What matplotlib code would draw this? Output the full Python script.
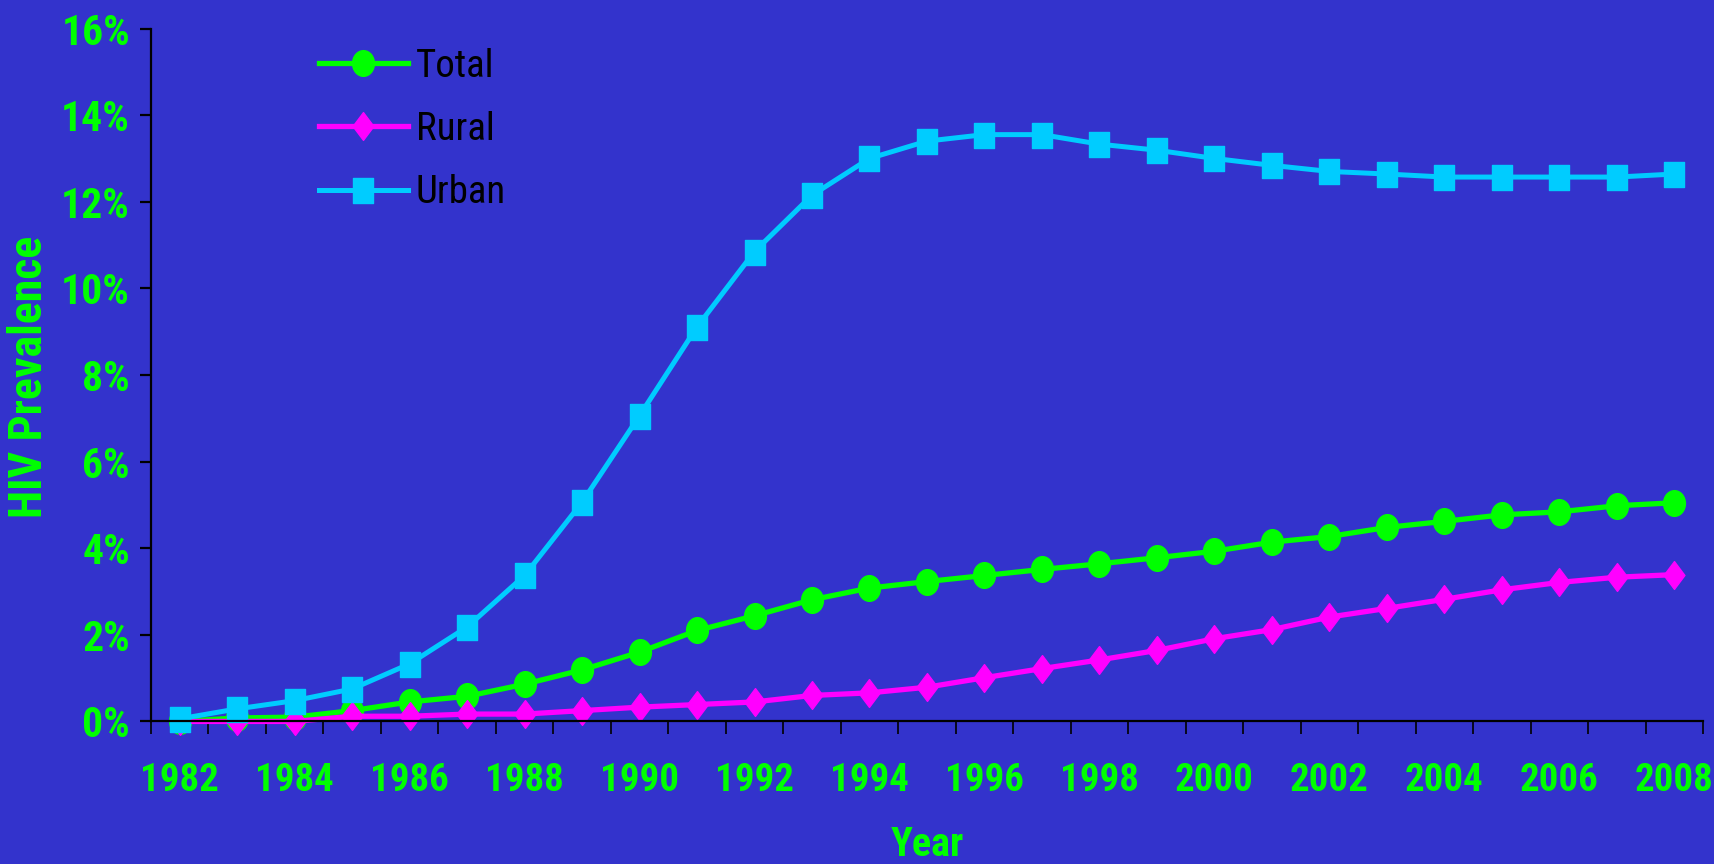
import numpy as np
import matplotlib
matplotlib.use("Agg")
import matplotlib.pyplot as plt
from matplotlib.path import Path
from matplotlib.transforms import Affine2D
from matplotlib.ticker import FuncFormatter

years = list(range(1982, 2009))
total = [0.0, 0.08, 0.1, 0.25, 0.45, 0.58, 0.86, 1.19, 1.6, 2.1, 2.44, 2.81, 3.08,
         3.23, 3.37, 3.51, 3.64, 3.78, 3.93, 4.14, 4.27, 4.48, 4.62, 4.77, 4.84, 4.98, 5.05]
rural = [0.0, 0.0, 0.0, 0.12, 0.12, 0.17, 0.17, 0.25, 0.33, 0.39, 0.45, 0.6, 0.66,
         0.79, 1.01, 1.22, 1.42, 1.64, 1.91, 2.12, 2.41, 2.61, 2.82, 3.04, 3.21, 3.33, 3.39]
urban = [0.06, 0.29, 0.48, 0.75, 1.33, 2.18, 3.37, 5.06, 7.06, 9.11, 10.85, 12.15, 13.0,
         13.40, 13.55, 13.55, 13.33, 13.19, 13.0, 12.84, 12.70, 12.64, 12.57, 12.57, 12.57, 12.57, 12.64]
series_names = ["Total", "Rural", "Urban"]
y_ticks = [0, 2, 4, 6, 8, 10, 12, 14, 16]

BG = "#3333CC"
GREEN = "#00FF00"
MAGENTA = "#FF00FF"
CYAN = "#00CCFF"

COND = ["Roboto Condensed", "Archivo Narrow", "DejaVu Sans"]

# slightly tall markers
ellipse = Path.unit_circle().transformed(Affine2D().scale(0.85, 1.0))
rect = Path.unit_rectangle().transformed(Affine2D().translate(-0.5, -0.5).scale(0.83, 1.0))
diamond = Path([(0, 1), (0.75, 0), (0, -1), (-0.75, 0), (0, 1)],
               [Path.MOVETO, Path.LINETO, Path.LINETO, Path.LINETO, Path.CLOSEPOLY])

fig = plt.figure(figsize=(17.15, 8.64), dpi=100, facecolor=BG)
ax = fig.add_axes([0.088, 0.165, 0.905, 0.802], facecolor=BG)

x = np.arange(len(years))
ax.plot(x, total, color=GREEN, lw=3.8, marker=ellipse, ms=18.5, mec=GREEN, mfc=GREEN,
        label=series_names[0], clip_on=False)
ax.plot(x, rural, color=MAGENTA, lw=3.8, marker=diamond, ms=20, mec=MAGENTA, mfc=MAGENTA,
        label=series_names[1], clip_on=False)
ax.plot(x, urban, color=CYAN, lw=3.6, marker=rect, ms=18, mec=CYAN, mfc=CYAN,
        label=series_names[2], clip_on=False)

ax.set_xlim(-0.5, len(years) - 0.5)
ax.set_ylim(0, 16)

for s in ["top", "right"]:
    ax.spines[s].set_visible(False)
for s in ["left", "bottom"]:
    ax.spines[s].set_color("black")
    ax.spines[s].set_linewidth(1.6)

ax.set_yticks(y_ticks)
ax.yaxis.set_major_formatter(FuncFormatter(lambda v, p: f"{int(v)}%"))
ax.tick_params(axis="y", direction="out", length=8, width=1.6, color="black",
               pad=7, labelcolor=GREEN, labelsize=30)

ax.set_xticks(x[::2])
ax.set_xticklabels([str(y) for y in years[::2]])
ax.set_xticks(np.arange(-0.5, len(years), 1.0), minor=True)
ax.tick_params(axis="x", which="major", length=0, pad=29, labelcolor=GREEN, labelsize=28)
ax.tick_params(axis="x", which="minor", direction="out", length=9, width=1.2, color="black")

for lab in ax.get_xticklabels() + ax.get_yticklabels():
    lab.set_family(COND)
    lab.set_fontweight("bold")

fig.text(0.017, 0.5637, "HIV Prevalence", rotation=90, ha="center", va="center",
         color=GREEN, fontsize=33, fontweight="bold", family=COND)
fig.text(0.5405, 0.009, "Year", ha="center", va="baseline",
         color=GREEN, fontsize=29, fontweight="bold", family=COND)

leg = ax.legend(loc="upper left", bbox_to_anchor=(0.098, 0.995), frameon=False,
                prop={"family": COND, "size": 28}, handlelength=2.3,
                handletextpad=0.2, labelspacing=0.68, borderaxespad=0)
for t in leg.get_texts():
    t.set_color("black")

fig.savefig("out.png", dpi=100, facecolor=BG)
